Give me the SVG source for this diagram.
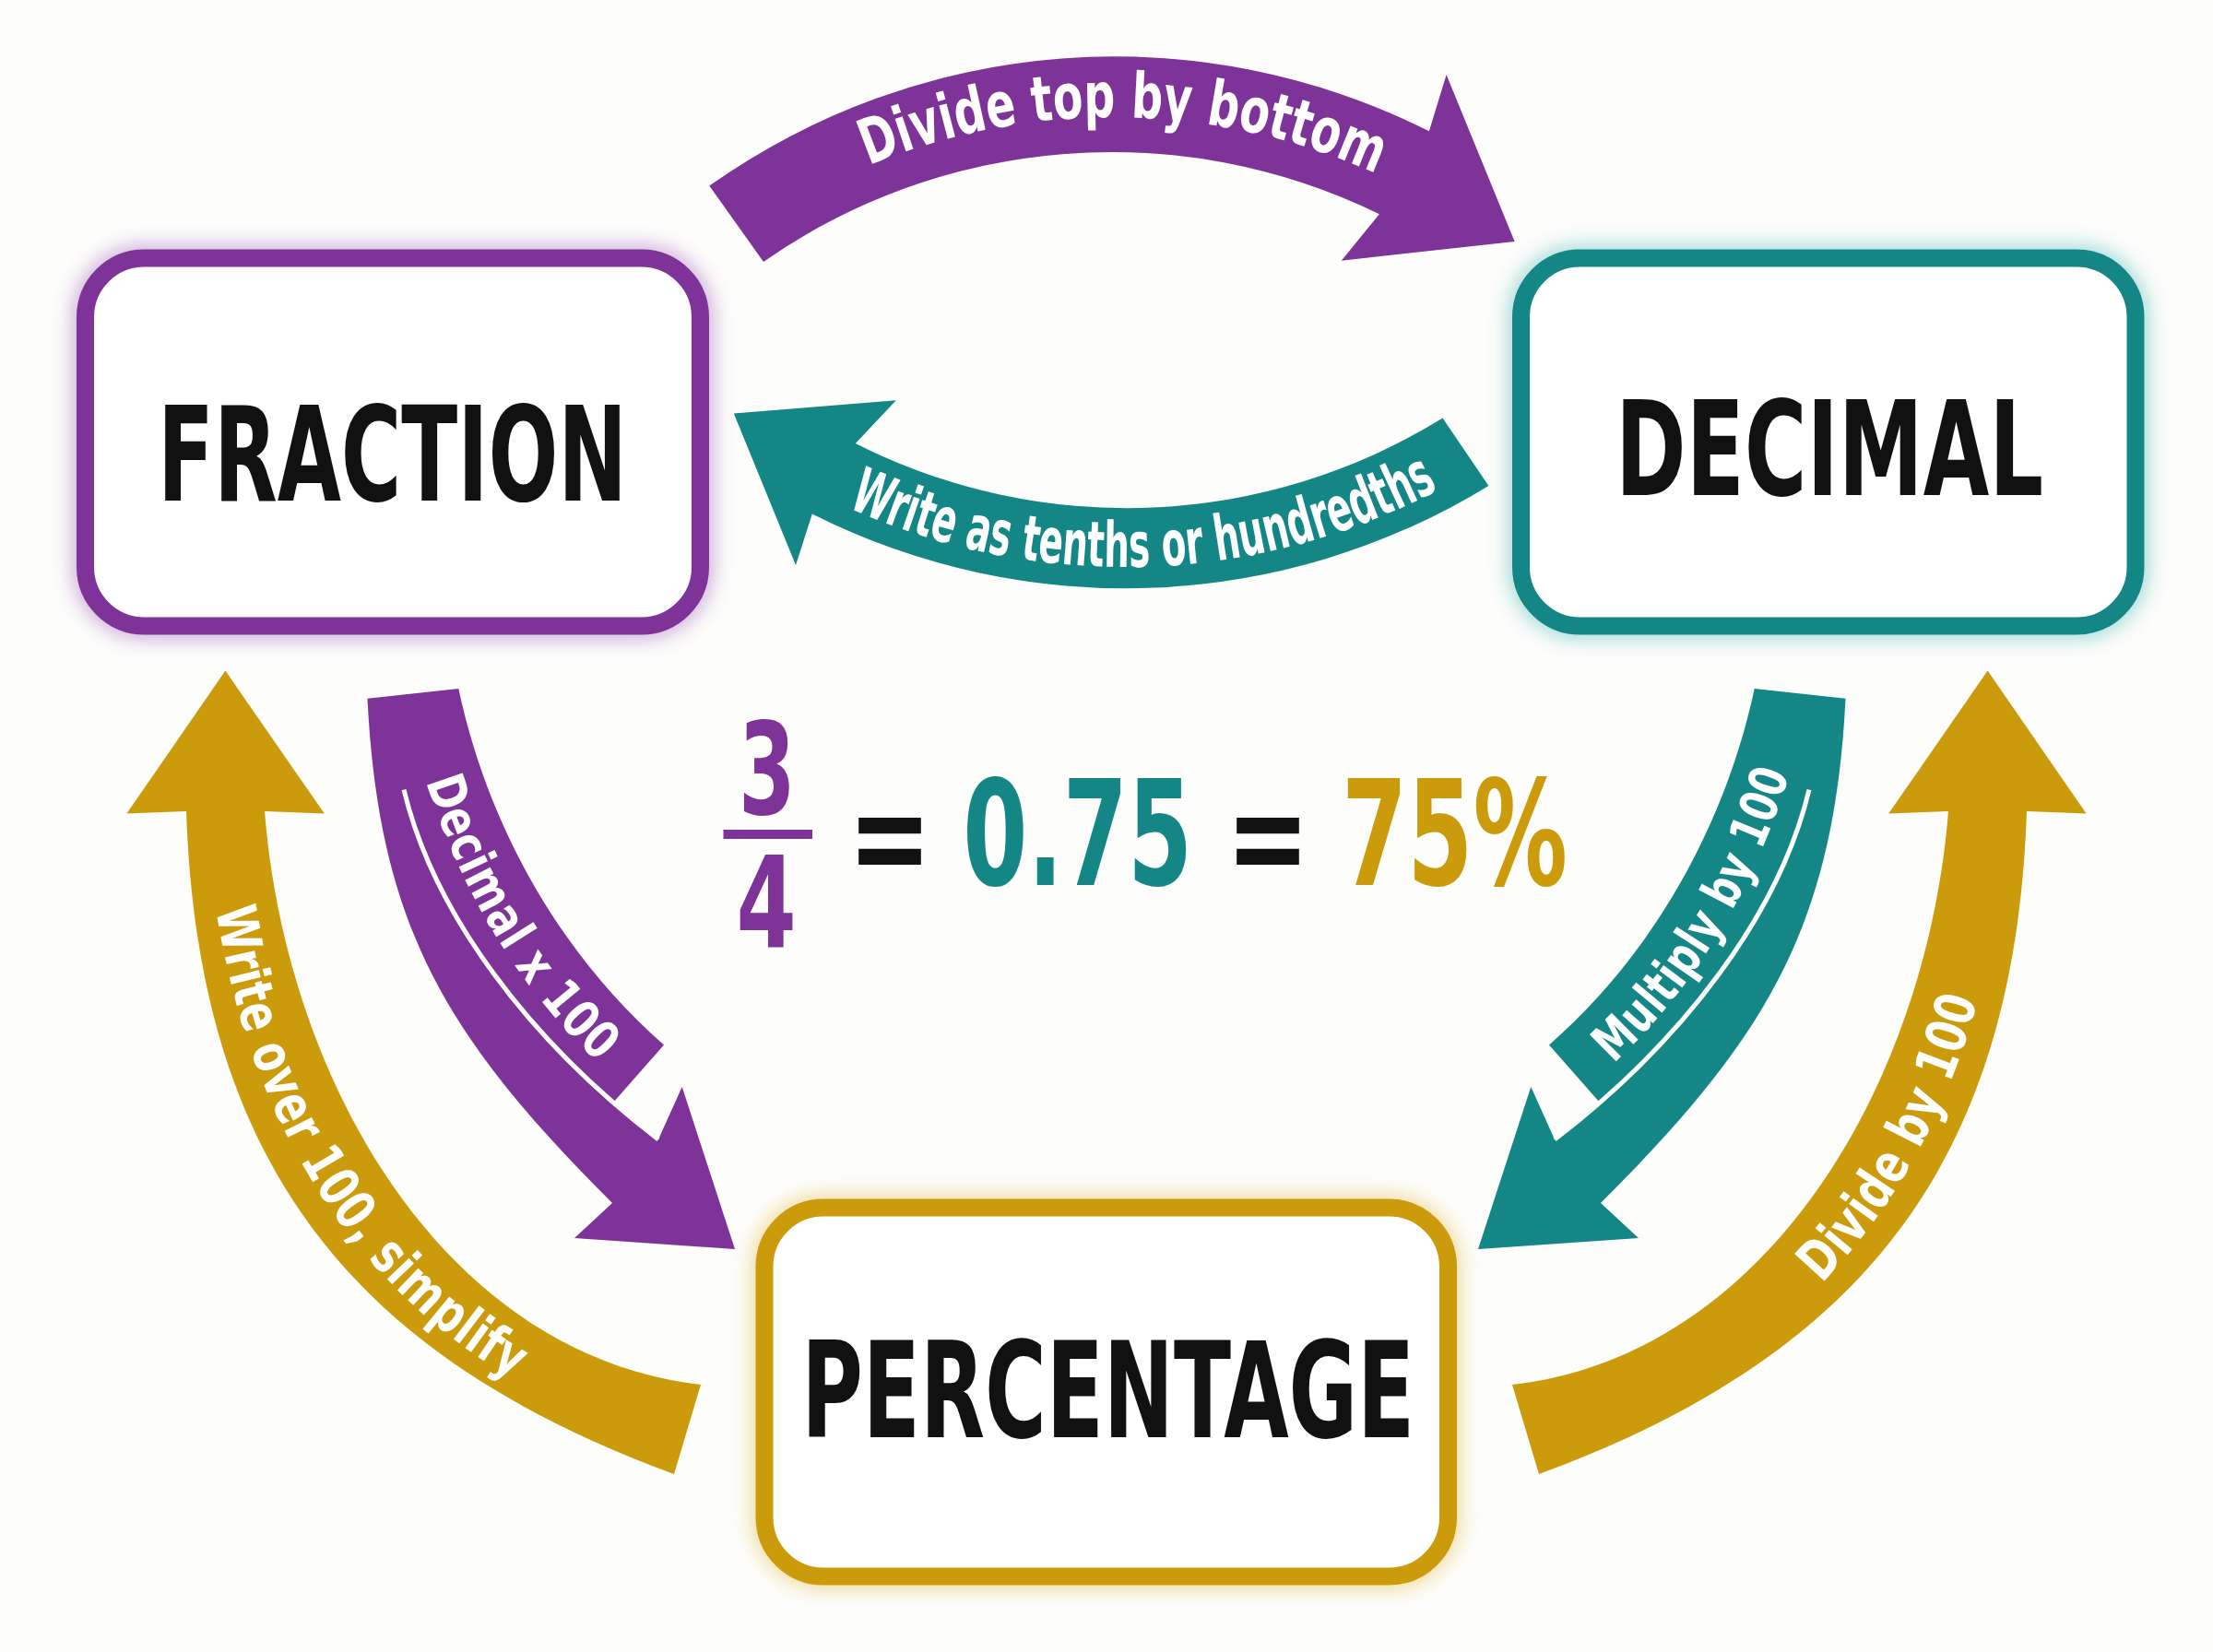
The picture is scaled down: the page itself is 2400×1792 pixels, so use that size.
<svg xmlns="http://www.w3.org/2000/svg" width="2400" height="1792" viewBox="0 0 2400 1792">
<defs>
<style>
.bg{fill:#FDFDFB}
.box{fill:#ffffff;stroke-width:19}
.glow{fill:none;stroke-width:30;opacity:0.45}
.lbl{font-family:"DejaVu Sans Condensed","DejaVu Sans",sans-serif;font-weight:bold;fill:#111111;text-anchor:middle}
.band{font-family:"DejaVu Sans Condensed","DejaVu Sans",sans-serif;font-weight:bold;fill:#ffffff;text-anchor:middle}
.eq{font-family:"DejaVu Sans Condensed","DejaVu Sans",sans-serif;font-weight:bold;text-anchor:middle}
.sep{fill:none;stroke:#FDFDFB;stroke-width:5}
.purple{fill:#7E3399}
.teal{fill:#148686}
.gold{fill:#CB9B0B}
</style>
<filter id="blur" x="-20%" y="-20%" width="140%" height="140%">
<feGaussianBlur stdDeviation="10"/>
</filter>
<path id="tp-top" d="M 715.6,330.6 A 695 695 0 0 1 1698.4,330.6"/>
<path id="tp-tenths" d="M 703.1,400.9 A 731 731 0 0 0 1736.9,400.9"/>
<path id="tp-dec" d="M 470,805 C 510,950 585,1080 700,1170"/>
<path id="tp-mul" d="M 1700,1170 C 1815,1080 1890,950 1930,805"/>
<path id="tp-wo" d="M 244.5,880 C 262.5,1215 430,1470 745.5,1550.5"/>
<path id="tp-div" d="M 1654.5,1550.5 C 1970,1470 2137.5,1215 2155.5,880"/>
</defs>
<rect class="bg" x="0" y="0" width="2400" height="1792"/>

<g id="connectors">
<g id="arrow-fraction-decimal">
<path class="purple" d="M 769.3,201.6 A 759 759 0 0 1 1549.9,142.3 L 1568.6,81 L 1642.6,262 L 1454.8,282.7 L 1495.9,232.2 A 659 659 0 0 0 828,284 Z"/>
<text class="band" font-size="68"><textPath href="#tp-top" startOffset="557" textLength="566" lengthAdjust="spacingAndGlyphs">Divide top by bottom</textPath></text>
</g>
<g id="arrow-decimal-fraction">
<path class="teal" d="M 1614.4,526.9 A 754 754 0 0 1 880.8,557.5 L 863,613 L 795.8,448.4 L 971.8,434.3 L 927.8,481 A 650 650 0 0 0 1564.5,453.4 Z"/>
<text class="band" font-size="68"><textPath href="#tp-tenths" startOffset="596" textLength="664" lengthAdjust="spacingAndGlyphs">Write as tenths or hundredths</textPath></text>
</g>
<g id="arrow-fraction-percentage">
<path class="purple" d="M 398.5,757.8 C 411,1008 487,1128 664,1305 L 623,1343 L 797,1355 L 739.7,1179 L 714,1236 L 665,1196 L 720,1133.4 C 606.9,1034.8 528.4,893.7 497.3,747 Z"/>
<path class="sep" d="M 438,856.6 C 470,990 573,1128 714,1236"/>
<text class="band" font-size="56" dominant-baseline="central"><textPath href="#tp-dec" startOffset="214" textLength="352" lengthAdjust="spacingAndGlyphs">Decimal x 100</textPath></text>
</g>
<g id="arrow-decimal-percentage">
<path class="teal" d="M 2001.5,757.8 C 1989,1008 1913,1128 1736,1305 L 1777,1343 L 1603,1355 L 1660.3,1179 L 1686,1236 L 1735,1196 L 1680,1133.4 C 1793.1,1034.8 1871.6,893.7 1902.7,747 Z"/>
<path class="sep" d="M 1962,856.6 C 1930,990 1827,1128 1686,1236"/>
<text class="band" font-size="56" dominant-baseline="central"><textPath href="#tp-mul" startOffset="228" textLength="362" lengthAdjust="spacingAndGlyphs">Multiply by 100</textPath></text>
</g>
<g id="arrow-percentage-fraction">
<path class="gold" d="M 202,880 C 215,1260 380,1470 731,1599 L 760,1502 C 480,1470 310,1170 287,880 L 351.8,882.5 L 244.4,727.6 L 137.4,882.5 Z"/>
<text class="band" font-size="60" dominant-baseline="central"><textPath href="#tp-wo" startOffset="45%" textLength="606" lengthAdjust="spacingAndGlyphs">Write over 100, simplify</textPath></text>
</g>
<g id="arrow-percentage-decimal">
<path class="gold" d="M 2198,880 C 2185,1260 2020,1470 1669,1599 L 1640,1502 C 1920,1470 2090,1170 2113,880 L 2048.2,882.5 L 2155.6,727.6 L 2262.6,882.5 Z"/>
<text class="band" font-size="60" dominant-baseline="central"><textPath href="#tp-div" startOffset="58.5%" textLength="345" lengthAdjust="spacingAndGlyphs">Divide by 100</textPath></text>
</g>
</g>

<g id="node-fraction">
<rect class="glow" x="92.5" y="280" width="667" height="399" rx="64" stroke="#9B59B6" filter="url(#blur)"/>
<rect class="box" x="92.5" y="280" width="667" height="399" rx="64" stroke="#7E3399"/>
<text class="lbl" x="425.5" y="543" font-size="143" textLength="509" lengthAdjust="spacingAndGlyphs">FRACTION</text>
</g>
<g id="node-decimal">
<rect class="glow" x="1649.5" y="280" width="666.5" height="399" rx="64" stroke="#3FB3B3" filter="url(#blur)"/>
<rect class="box" x="1649.5" y="280" width="666.5" height="399" rx="64" stroke="#148686"/>
<text class="lbl" x="1984" y="537" font-size="143" textLength="464" lengthAdjust="spacingAndGlyphs">DECIMAL</text>
</g>
<g id="node-percentage">
<rect class="glow" x="829" y="1310" width="741.5" height="400" rx="64" stroke="#E0B83A" filter="url(#blur)"/>
<rect class="box" x="829" y="1310" width="741.5" height="400" rx="64" stroke="#CB9B0B"/>
<text class="lbl" x="1201.75" y="1559" font-size="145" textLength="665" lengthAdjust="spacingAndGlyphs">PERCENTAGE</text>
</g>

<g id="equation">
<text class="eq" transform="translate(832,883) scale(0.71,1)" font-size="139" fill="#7E3399">3</text>
<rect x="784.5" y="900" width="96.5" height="10" fill="#7E3399"/>
<text class="eq" transform="translate(831,1027) scale(0.76,1)" font-size="137" fill="#7E3399">4</text>
<text class="eq" transform="translate(965,960) scale(0.8,1)" font-size="150" fill="#111111">=</text>
<text class="eq" transform="translate(1168.75,960) scale(0.71,1)" font-size="158" fill="#148686">0.75</text>
<text class="eq" transform="translate(1375,960) scale(0.8,1)" font-size="150" fill="#111111">=</text>
<text class="eq" transform="translate(1577.5,960) scale(0.72,1)" font-size="158" fill="#CB9B0B">75%</text>
</g>
</svg>
